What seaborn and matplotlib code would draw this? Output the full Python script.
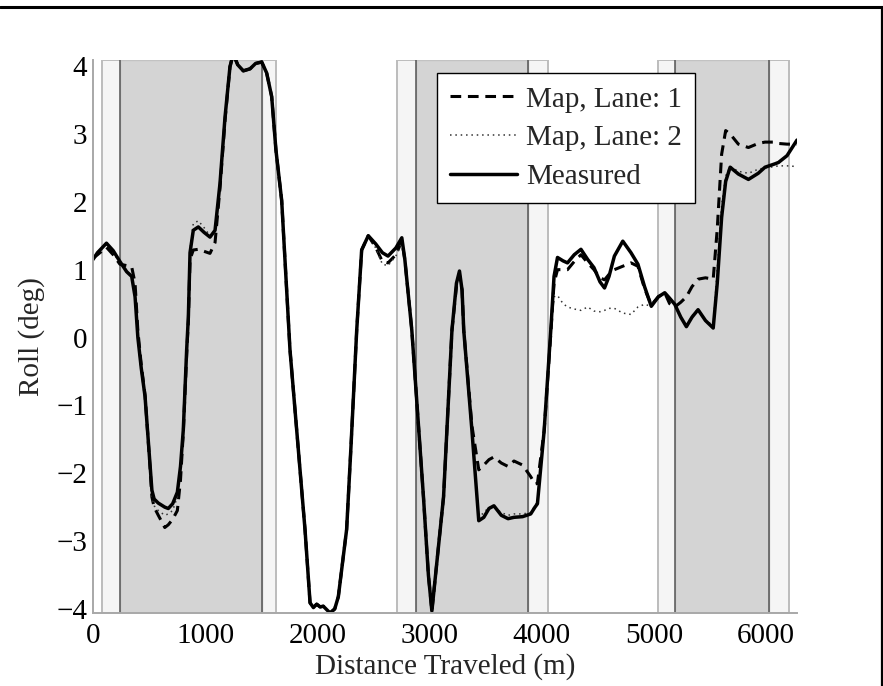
import matplotlib
matplotlib.use("Agg")
import matplotlib.pyplot as plt
import seaborn as sns
import pandas as pd
from matplotlib.lines import Line2D

# Distance along the route (m) and roll angle (deg)
distance = [
    0, 40, 120, 180, 240, 300, 345, 375, 400, 430, 464, 508, 525, 545, 582, 640, 671, 710, 752, 780,
    805, 835, 850, 865, 894, 939, 990, 1043, 1088, 1132, 1177, 1221, 1250, 1290, 1340, 1400, 1450, 1504, 1548, 1593,
    1631, 1682, 1720, 1756, 1816, 1890, 1935, 1965, 1994, 2025, 2053, 2113, 2155, 2187, 2261, 2300, 2351, 2395, 2454, 2520,
    2580, 2630, 2700, 2753, 2780, 2842, 2946, 2990, 3021, 3060, 3125, 3200, 3240, 3267, 3290, 3305, 3378, 3439, 3484, 3530,
    3574, 3640, 3700, 3753, 3830, 3902, 3940, 3962, 4022, 4081, 4110, 4141, 4190, 4230, 4290, 4350, 4410, 4466, 4520, 4560,
    4600, 4648, 4723, 4796, 4858, 4917, 4977, 5040, 5097, 5140, 5186, 5240, 5290, 5340, 5394, 5460, 5529, 5565, 5604, 5640,
    5680, 5753, 5843, 5930, 5991, 6080, 6111, 6187, 6276,
]

roll_measured = [
    1.15, 1.25, 1.39, 1.28, 1.12, 0.97, 0.90, 0.60, 0.00, -0.45, -0.87, -1.85, -2.25, -2.38, -2.44, -2.50, -2.52, -2.45, -2.28, -1.90,
    -1.36, -0.18, 0.30, 1.25, 1.58, 1.63, 1.55, 1.48, 1.58, 2.27, 3.25, 3.99, 4.18, 4.02, 3.93, 3.96, 4.04, 4.06, 3.90, 3.55,
    2.76, 2.02, 0.90, -0.18, -1.36, -2.83, -3.91, -3.98, -3.93, -3.97, -3.96, -4.06, -4.00, -3.82, -2.83, -1.60, 0.11, 1.29, 1.50, 1.38,
    1.25, 1.20, 1.32, 1.47, 1.15, 0.11, -2.35, -3.50, -4.03, -3.40, -2.35, 0.11, 0.80, 0.98, 0.70, 0.11, -1.37, -2.70, -2.65, -2.52,
    -2.48, -2.62, -2.67, -2.65, -2.64, -2.60, -2.50, -2.45, -1.37, 0.11, 0.90, 1.18, 1.13, 1.10, 1.22, 1.30, 1.15, 1.03, 0.82, 0.73,
    0.90, 1.20, 1.42, 1.25, 1.08, 0.75, 0.46, 0.60, 0.66, 0.58, 0.49, 0.30, 0.16, 0.30, 0.41, 0.25, 0.14, 0.80, 1.77, 2.30,
    2.51, 2.41, 2.33, 2.42, 2.51, 2.56, 2.58, 2.68, 2.91,
]

roll_lane1 = [
    1.17, 1.22, 1.33, 1.22, 1.08, 1.06, 1.04, 0.80, 0.10, -0.40, -0.85, -1.90, -2.35, -2.50, -2.62, -2.80, -2.76, -2.68, -2.55, -2.10,
    -1.40, -0.25, 0.25, 1.15, 1.29, 1.30, 1.27, 1.24, 1.40, 2.20, 3.20, 3.99, 4.18, 4.02, 3.93, 3.96, 4.04, 4.06, 3.90, 3.55,
    2.76, 2.02, 0.90, -0.18, -1.36, -2.83, -3.91, -3.98, -3.93, -3.97, -3.96, -4.06, -4.00, -3.82, -2.83, -1.60, 0.11, 1.29, 1.50, 1.33,
    1.12, 1.10, 1.22, 1.42, 1.15, 0.11, -2.35, -3.50, -4.03, -3.40, -2.35, 0.11, 0.75, 0.92, 0.70, 0.11, -1.30, -1.95, -1.88, -1.80,
    -1.76, -1.85, -1.90, -1.82, -1.88, -2.05, -2.16, -2.15, -1.37, 0.05, 0.80, 1.00, 1.00, 1.00, 1.12, 1.22, 1.10, 1.00, 0.88, 0.85,
    0.93, 1.00, 1.05, 1.10, 1.05, 0.72, 0.48, 0.60, 0.66, 0.50, 0.45, 0.52, 0.60, 0.75, 0.86, 0.88, 0.86, 1.60, 2.70, 3.05,
    3.00, 2.85, 2.80, 2.86, 2.88, 2.88, 2.86, 2.85, 2.85,
]

roll_lane2 = [
    1.15, 1.25, 1.39, 1.25, 1.10, 0.98, 0.92, 0.65, 0.00, -0.45, -0.87, -1.90, -2.35, -2.48, -2.55, -2.62, -2.60, -2.55, -2.35, -1.95,
    -1.38, -0.20, 0.30, 1.30, 1.68, 1.72, 1.62, 1.50, 1.58, 2.27, 3.25, 3.99, 4.18, 4.02, 3.93, 3.96, 4.04, 4.06, 3.90, 3.55,
    2.76, 2.02, 0.90, -0.18, -1.36, -2.83, -3.91, -3.98, -3.93, -3.97, -3.96, -4.06, -4.00, -3.82, -2.83, -1.60, 0.11, 1.29, 1.50, 1.32,
    1.08, 1.06, 1.20, 1.40, 1.15, 0.11, -2.35, -3.50, -4.03, -3.40, -2.35, 0.11, 0.78, 0.95, 0.70, 0.11, -1.37, -2.65, -2.58, -2.50,
    -2.50, -2.58, -2.62, -2.60, -2.60, -2.58, -2.48, -2.42, -1.37, 0.05, 0.60, 0.62, 0.50, 0.45, 0.42, 0.40, 0.45, 0.39, 0.38, 0.40,
    0.43, 0.43, 0.36, 0.34, 0.45, 0.49, 0.46, 0.60, 0.66, 0.58, 0.49, 0.30, 0.18, 0.32, 0.42, 0.25, 0.18, 1.00, 1.95, 2.38,
    2.52, 2.45, 2.42, 2.48, 2.50, 2.52, 2.53, 2.53, 2.52,
]

# Shaded route sections: wide (light) and core (dark) bands
wide_bands = [(80, 1628), (2707, 4059), (5037, 6205)]
core_bands = [(245, 1509), (2877, 3880), (5186, 6027)]

x_ticks = [0, 1000, 2000, 3000, 4000, 5000, 6000]
y_ticks = [-4, -3, -2, -1, 0, 1, 2, 3, 4]

sns.set_style("white")
plt.rcParams["font.family"] = ["Liberation Serif", "DejaVu Serif"]

fig = plt.figure(figsize=(8.83, 6.86), dpi=100)
W, H = 883, 686
ax = fig.add_axes([93 / W, 1 - 613 / H, (797 - 93) / W, (613 - 60) / H])

for lo, hi in wide_bands:
    ax.axvspan(lo, hi, facecolor="#f5f5f5", edgecolor="#bcbcbc", lw=1.4, zorder=0)
for lo, hi in core_bands:
    ax.axvspan(lo, hi, facecolor="#d4d4d4", edgecolor="#c2c2c2", lw=1.0, zorder=0.5)
    ax.axvline(lo, color="#555555", lw=1.1, zorder=0.6)
    ax.axvline(hi, color="#555555", lw=1.1, zorder=0.6)

df = pd.DataFrame({
    "distance": distance,
    "measured": roll_measured,
    "lane1": roll_lane1,
    "lane2": roll_lane2,
})

sns.lineplot(data=df, x="distance", y="lane1", ax=ax, color="black", lw=2.2,
             dashes=(3.5, 2.2), label="Map, Lane: 1", zorder=3,
             dash_joinstyle="round", dash_capstyle="butt")
sns.lineplot(data=df, x="distance", y="lane2", ax=ax, color="#333333", lw=1.1,
             linestyle=(0, (1, 2.5)), label="Map, Lane: 2", zorder=3)
sns.lineplot(data=df, x="distance", y="measured", ax=ax, color="black", lw=2.5,
             label="Measured", zorder=4, solid_joinstyle="round", solid_capstyle="round")

ax.set_xlim(0, 6276)
ax.set_ylim(-4.06, 4.09)
ax.set_xticks(x_ticks)
ax.set_yticks(y_ticks)

for side in ("top", "right"):
    ax.spines[side].set_visible(False)
for side in ("left", "bottom"):
    ax.spines[side].set_color("#a8a8a8")
    ax.spines[side].set_linewidth(1.4)
    ax.spines[side].set_zorder(5)

ax.tick_params(axis="both", direction="in", length=4, width=1, color="#888888",
               labelsize=21, labelcolor="black")
ax.tick_params(axis="y", pad=4)
ax.tick_params(axis="x", pad=7)

ax.set_xlabel("Distance Traveled (m)", fontsize=21, labelpad=3)
ax.set_ylabel("Roll (deg)", fontsize=21, labelpad=8)

leg = ax.legend(loc="upper left", bbox_to_anchor=(0.4886, 0.9765), borderaxespad=0,
                fontsize=21, frameon=True, fancybox=False, framealpha=1,
                edgecolor="black", handlelength=2.3, handletextpad=0.3,
                borderpad=0.45, labelspacing=0.42)
leg.get_frame().set_linewidth(1.0)
leg.set_zorder(10)

# Cropped frame around the figure
fig.add_artist(Line2D([0, 1], [1 - 6.5 / H, 1 - 6.5 / H], color="black", lw=2.2,
                      transform=fig.transFigure))
fig.add_artist(Line2D([881.5 / W, 881.5 / W], [0, 1 - 6.5 / H], color="black", lw=1.6,
                      transform=fig.transFigure))

fig.savefig("out.png", dpi=100)
